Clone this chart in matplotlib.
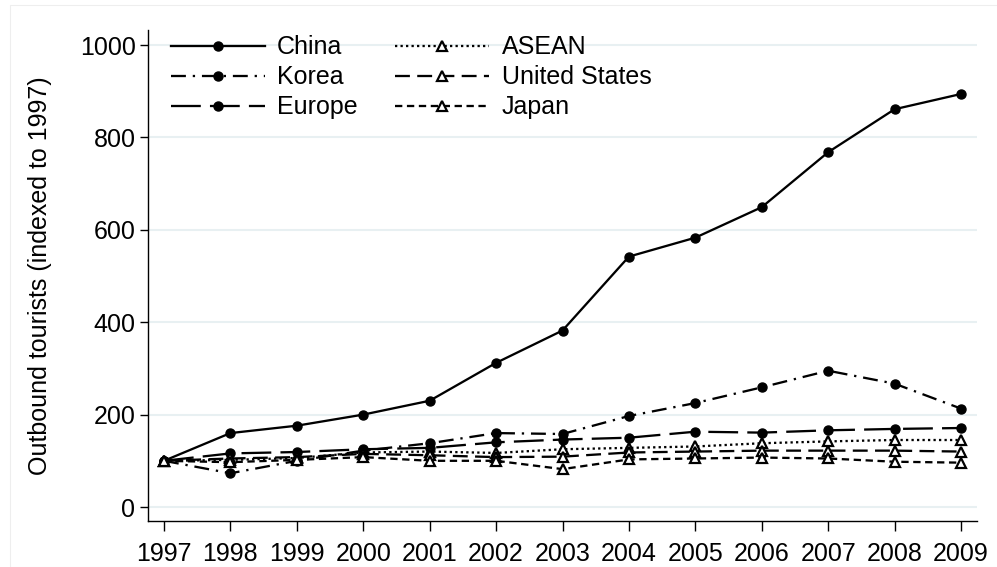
import numpy as np
import matplotlib.pyplot as plt
from matplotlib.patches import Rectangle

plt.rcParams['font.family'] = ['Liberation Sans', 'DejaVu Sans']

years = np.arange(1997, 2010)

china = [100, 160, 176, 200, 230, 312, 382, 542, 583, 649, 768, 861, 894]
korea = [100, 73, 100, 122, 138, 160, 158, 197, 225, 259, 295, 267, 213]
europe = [100, 116, 119, 125, 128, 140, 146, 150, 163, 161, 166, 169, 171]
asean = [100, 102, 106, 118, 120, 117, 125, 128, 131, 138, 142, 145, 145]
usa = [100, 105, 108, 115, 112, 108, 109, 118, 120, 122, 122, 122, 120]
japan = [100, 97, 102, 108, 100, 100, 82, 103, 105, 107, 105, 98, 96]

fig = plt.figure(figsize=(9.97, 5.67), dpi=100)
ax = fig.add_axes([148/997, 1 - 521/567, (977 - 148)/997, (521 - 30)/567])

# faint outer frame
fig.patches.append(Rectangle((10/997, 0), 1, 1 - 5/567, transform=fig.transFigure,
                             fill=False, edgecolor='#eeeeee', lw=0.8))

lw = 1.65
circ = dict(marker='o', markersize=6.5, markerfacecolor='black', markeredgecolor='black')
tri = dict(marker='^', markersize=6.5, markerfacecolor='white', markeredgecolor='black',
           markeredgewidth=1.6)

ax.plot(years, china, color='black', lw=lw, ls='-', label='China', **circ)
ax.plot(years, korea, color='black', lw=lw, ls=(0, (6.5, 3, 1, 3)), label='Korea', **circ)
ax.plot(years, europe, color='black', lw=lw, ls=(0, (13, 4)), label='Europe', **circ)
ax.plot(years, asean, color='black', lw=lw, ls=(0, (1, 1.4)), label='ASEAN', **tri)
ax.plot(years, usa, color='black', lw=lw, ls=(0, (6.5, 3.2)), label='United States', **tri)
ax.plot(years, japan, color='black', lw=lw, ls=(0, (3.2, 2)), label='Japan', **tri)

ax.set_xlim(1996.759, 2009.241)
ax.set_ylim(-30.3, 1032.5)
ax.set_xticks(years)
ax.set_yticks([0, 200, 400, 600, 800, 1000])
ax.tick_params(axis='x', direction='out', length=7, width=1, labelsize=18, pad=8)
ax.tick_params(axis='y', direction='out', length=6, width=1, labelsize=18, pad=3)
ax.yaxis.grid(True, color='#e8f0f2', lw=1.5)
ax.set_axisbelow(True)

for s in ['top', 'right']:
    ax.spines[s].set_visible(False)
for s in ['left', 'bottom']:
    ax.spines[s].set_linewidth(1)

ax.set_ylabel('Outbound tourists (indexed to 1997)', fontsize=18, labelpad=20)

ax.legend(loc='upper left', ncol=2, frameon=False, fontsize=18, handlelength=3.76,
          handletextpad=0.5, columnspacing=1.5, labelspacing=0.24,
          bbox_to_anchor=(0.0, 1.035))

fig.savefig('out.png', dpi=100)
